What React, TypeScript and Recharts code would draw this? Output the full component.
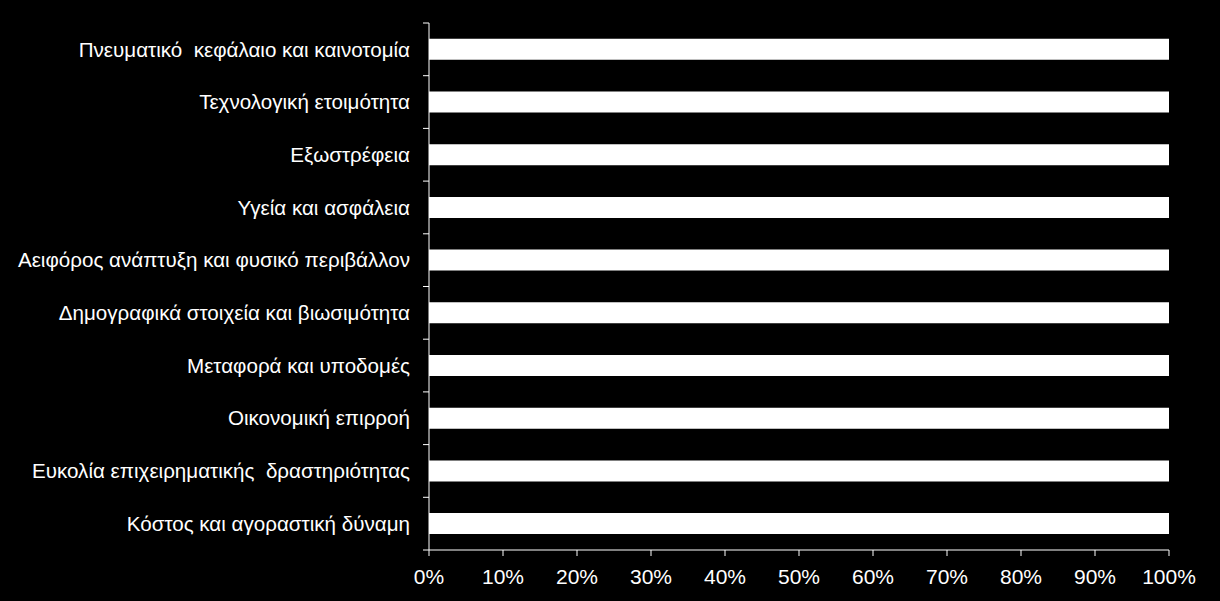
import { BarChart, Bar, XAxis, YAxis } from 'recharts';

const categories = [
  'Πνευματικό  κεφάλαιο και καινοτομία',
  'Τεχνολογική ετοιμότητα',
  'Εξωστρέφεια',
  'Υγεία και ασφάλεια',
  'Αειφόρος ανάπτυξη και φυσικό περιβάλλον',
  'Δημογραφικά στοιχεία και βιωσιμότητα',
  'Μεταφορά και υποδομές',
  'Οικονομική επιρροή',
  'Ευκολία επιχειρηματικής  δραστηριότητας',
  'Κόστος και αγοραστική δύναμη',
];
const shares = [1, 1, 1, 1, 1, 1, 1, 1, 1, 1];
const xTicks = [0, 0.1, 0.2, 0.3, 0.4, 0.5, 0.6, 0.7, 0.8, 0.9, 1];

const data = categories.map((name, i) => ({ name, value: shares[i] }));

const W = 1220;
const H = 601;
const X_AXIS_H = 51;
const M = { top: 23, right: 51, bottom: 0, left: 0 };
const Y_AXIS_W = 429;
const band = (H - M.top - X_AXIS_H) / categories.length;
const font = '"Liberation Sans", Arial, sans-serif';
const ink = '#ffffff';

// category labels at band centers, tick marks on the band boundaries
function CategoryTick(props: any) {
  const { x, y, payload, index } = props;
  const ax = x + 19;
  return (
    <g>
      <line x1={ax - 6} x2={ax} y1={y - band / 2} y2={y - band / 2} stroke={ink} />
      {index === categories.length - 1 && (
        <line x1={ax - 6} x2={ax} y1={y + band / 2} y2={y + band / 2} stroke={ink} />
      )}
      <text
        x={x}
        y={y}
        dy="0.35em"
        textAnchor="end"
        fill={ink}
        fontSize={20.6}
        fontFamily={font}
        style={{ whiteSpace: 'pre' }}
      >
        {payload.value}
      </text>
    </g>
  );
}

export default function App() {
  return (
    <div style={{ position: 'fixed', left: 0, top: 0, width: W, height: H, background: '#000' }}>
      <BarChart width={W} height={H} data={data} layout="vertical" margin={M} barCategoryGap="30%">
        <XAxis
          type="number"
          domain={[0, 1]}
          ticks={xTicks}
          height={X_AXIS_H}
          tickFormatter={(v: number) => `${Math.round(v * 100)}%`}
          stroke={ink}
          tickSize={6}
          tickMargin={13}
          tick={{ fill: ink, fontSize: 21, fontFamily: font }}
          interval={0}
        />
        <YAxis
          type="category"
          dataKey="name"
          width={Y_AXIS_W}
          stroke={ink}
          tickLine={false}
          tickSize={6}
          tickMargin={13}
          tick={<CategoryTick />}
          interval={0}
        />
        <Bar dataKey="value" fill="#ffffff" isAnimationActive={false} />
      </BarChart>
    </div>
  );
}
